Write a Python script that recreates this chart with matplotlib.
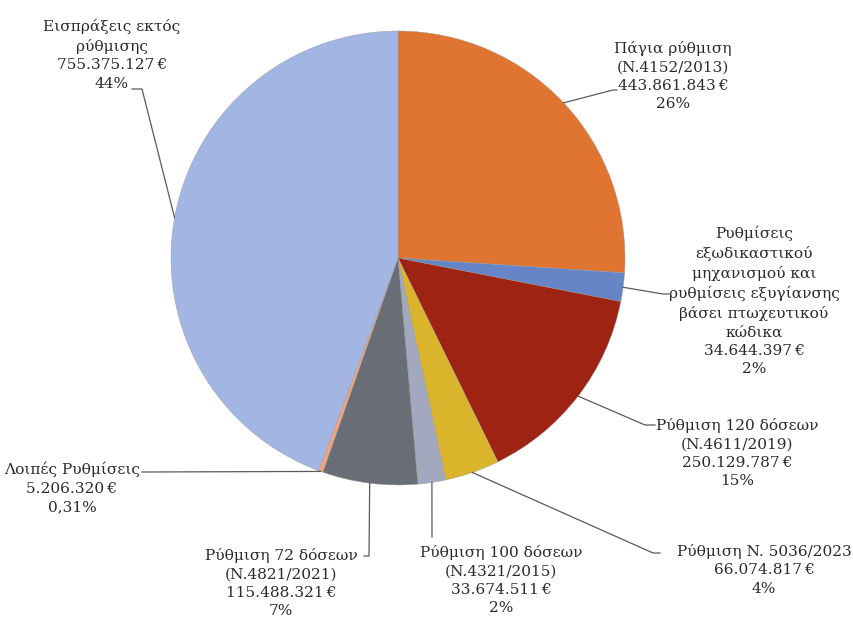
import numpy as np
import matplotlib
matplotlib.use("Agg")
import matplotlib.pyplot as plt

# data
names = [
    "Πάγια ρύθμιση\n(N.4152/2013)",
    "Ρυθμίσεις\nεξωδικαστικού\nμηχανισμού και\nρυθμίσεις εξυγίανσης\nβάσει πτωχευτικού\nκώδικα",
    "Ρύθμιση 120 δόσεων\n(N.4611/2019)",
    "Ρύθμιση N. 5036/2023",
    "Ρύθμιση 100 δόσεων\n(N.4321/2015)",
    "Ρύθμιση 72 δόσεων\n(N.4821/2021)",
    "Λοιπές Ρυθμίσεις",
    "Εισπράξεις εκτός\nρύθμισης",
]
amounts = [443861843, 34644397, 250129787, 66074817, 33674511, 115488321, 5206320, 755375127]
pct_labels = ["26%", "2%", "15%", "4%", "2%", "7%", "0,31%", "44%"]
colors = ["#E07431", "#6585C6", "#9E2313", "#DAB42B", "#A2A9BE", "#686D76", "#F4A27C", "#A3B5E2"]

# label layout (pixel positions in the 854x619 image)
CX, CY, R = 398, 258, 227
label_centers = [(673, 76), (754, 301), (737, 453), (764, 570),
                 (501, 580), (281, 583), (72, 488), (112, 55)]
leader_paths = [
    [(613, 90), (617, 90)],
    [(663, 294), (669, 294)],
    [(645, 425), (655, 425)],
    [(653, 553), (660, 553)],
    [(432, 537)],
    [(369, 556), (364, 556)],
    [(142, 472)],
    [(142, 89), (132, 89)],
]


def px(p):
    return ((p[0] - CX) / R, (CY - p[1]) / R)


fig = plt.figure(figsize=(8.54, 6.19), dpi=100)
ax = fig.add_axes([(CX - R) / 854, (619 - CY - R) / 619, 2 * R / 854, 2 * R / 619])

wedges, _ = ax.pie(amounts, colors=colors, startangle=90, counterclock=False,
                   radius=1, wedgeprops=dict(linewidth=0.3, edgecolor="#9a9a9a"))
ax.set_xlim(-1, 1)
ax.set_ylim(-1, 1)
ax.set_aspect("equal")
ax.axis("off")

for i, w in enumerate(wedges):
    ang = np.deg2rad((w.theta1 + w.theta2) / 2)
    pts = [(np.cos(ang), np.sin(ang))] + [px(p) for p in leader_paths[i]]
    xs, ys = zip(*pts)
    ax.plot(xs, ys, color="#5a5a5a", linewidth=0.9, clip_on=False, zorder=3)

    value = f"{amounts[i]:,}".replace(",", ".") + "\u2009€"
    text = f"{names[i]}\n{value}\n{pct_labels[i]}"
    tx, ty = px(label_centers[i])
    ax.text(tx, ty, text, ha="center", va="center", fontsize=11.1,
            family="DejaVu Serif", color="#2b2b2b", linespacing=1.4,
            clip_on=False, zorder=4)

fig.savefig("out.png", dpi=100, facecolor="white")
